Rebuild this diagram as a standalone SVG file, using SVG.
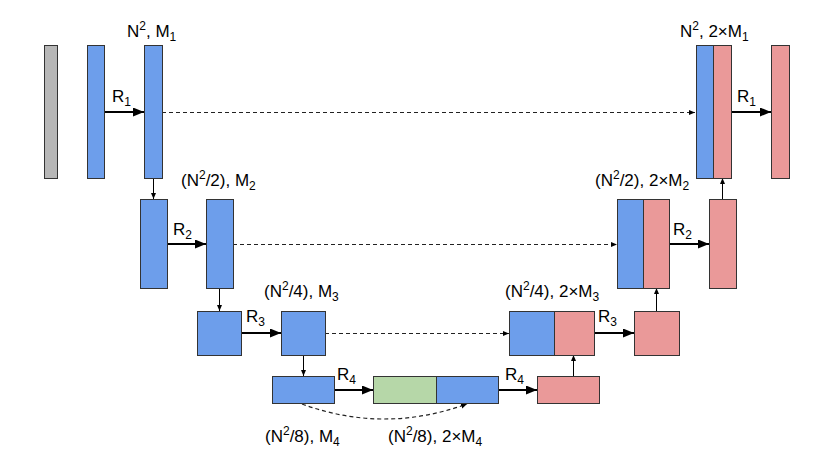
<svg xmlns="http://www.w3.org/2000/svg" width="830" height="470" viewBox="0 0 830 470">
<defs>
<style>
.b{fill:#6d9eeb;stroke:#333;stroke-width:1}
.r{fill:#ea9999;stroke:#333;stroke-width:1}
.g{fill:#b6d7a8;stroke:#333;stroke-width:1}
.k{fill:#b7b7b7;stroke:#333;stroke-width:1}
.t{font-family:"Liberation Sans",Arial,sans-serif;font-size:17px;fill:#000}
.s{font-size:12px}
.big{stroke:#000;stroke-width:2;fill:none;marker-end:url(#ab)}
.sm{stroke:#000;stroke-width:1;fill:none;marker-end:url(#as)}
.da{stroke:#222;stroke-width:1.2;stroke-dasharray:4 3;fill:none;marker-end:url(#as)}
</style>
<marker id="ab" markerUnits="userSpaceOnUse" markerWidth="11" markerHeight="9" refX="11" refY="4.5" orient="auto">
<path d="M0,0 L11,4.5 L0,9 z" fill="#000"/>
</marker>
<marker id="as" markerUnits="userSpaceOnUse" markerWidth="6" markerHeight="6" refX="6" refY="3" orient="auto">
<path d="M0,0.5 L6,3 L0,5.5 z" fill="#000"/>
</marker>
</defs>

<g id="connectors">
<line class="big" x1="104" y1="112" x2="144" y2="112"/>
<line class="big" x1="167" y1="244" x2="206" y2="244"/>
<line class="big" x1="241" y1="333" x2="281" y2="333"/>
<line class="big" x1="334" y1="390" x2="373" y2="390"/>
<line class="big" x1="498" y1="390" x2="537" y2="390"/>
<line class="big" x1="594" y1="333" x2="634" y2="333"/>
<line class="big" x1="669" y1="244" x2="709" y2="244"/>
<line class="big" x1="731" y1="112" x2="771" y2="112"/>
<line class="sm" x1="153.5" y1="178" x2="153.5" y2="199"/>
<line class="sm" x1="219.5" y1="288" x2="219.5" y2="311"/>
<line class="sm" x1="303.5" y1="355" x2="303.5" y2="376"/>
<line class="sm" x1="573.5" y1="376" x2="573.5" y2="355"/>
<line class="sm" x1="656.5" y1="311" x2="656.5" y2="288"/>
<line class="sm" x1="722.5" y1="199" x2="722.5" y2="178"/>
<line class="da" x1="162" y1="112.5" x2="695" y2="112.5"/>
<line class="da" x1="233" y1="244.5" x2="617" y2="244.5"/>
<line class="da" x1="325" y1="333.5" x2="509" y2="333.5"/>
<path class="da" d="M302,404 Q384,434 467,404"/>
</g>

<g id="input"><rect class="k" x="44.5" y="45.5" width="13" height="133"/></g>
<g id="enc1a"><rect class="b" x="87.5" y="45.5" width="17" height="133"/></g>
<g id="enc1b"><rect class="b" x="144.5" y="45.5" width="18" height="133"/></g>
<g id="enc2a"><rect class="b" x="140.5" y="199.5" width="27" height="89"/></g>
<g id="enc2b"><rect class="b" x="206.5" y="199.5" width="27" height="89"/></g>
<g id="enc3a"><rect class="b" x="197.5" y="311.5" width="44" height="44"/></g>
<g id="enc3b"><rect class="b" x="281.5" y="311.5" width="44" height="44"/></g>
<g id="enc4"><rect class="b" x="272.5" y="376.5" width="62" height="27"/></g>
<g id="bottleneck"><rect class="g" x="373.5" y="376.5" width="63" height="27"/><rect class="b" x="436.5" y="376.5" width="62" height="27"/></g>
<g id="dec4"><rect class="r" x="537.5" y="376.5" width="62" height="27"/></g>
<g id="dec3a"><rect class="b" x="509.5" y="311.5" width="45" height="44"/><rect class="r" x="554.5" y="311.5" width="40" height="44"/></g>
<g id="dec3b"><rect class="r" x="634.5" y="311.5" width="45" height="44"/></g>
<g id="dec2a"><rect class="b" x="617.5" y="199.5" width="26" height="89"/><rect class="r" x="643.5" y="199.5" width="26" height="89"/></g>
<g id="dec2b"><rect class="r" x="709.5" y="199.5" width="27" height="89"/></g>
<g id="dec1a"><rect class="b" x="696.5" y="45.5" width="17" height="133"/><rect class="r" x="713.5" y="45.5" width="18" height="133"/></g>
<g id="dec1b"><rect class="r" x="771.5" y="45.5" width="18" height="133"/></g>

<g id="labels">
<text class="t" x="112" y="102">R<tspan class="s" dy="4">1</tspan></text>
<text class="t" x="173" y="235">R<tspan class="s" dy="4">2</tspan></text>
<text class="t" x="246" y="322">R<tspan class="s" dy="4">3</tspan></text>
<text class="t" x="337" y="380">R<tspan class="s" dy="4">4</tspan></text>
<text class="t" x="505" y="380">R<tspan class="s" dy="4">4</tspan></text>
<text class="t" x="598" y="322">R<tspan class="s" dy="4">3</tspan></text>
<text class="t" x="673" y="235">R<tspan class="s" dy="4">2</tspan></text>
<text class="t" x="737" y="102">R<tspan class="s" dy="4">1</tspan></text>

<text class="t" x="127" y="37">N<tspan class="s" dy="-7">2</tspan><tspan dy="7">, M</tspan><tspan class="s" dy="4">1</tspan></text>
<text class="t" x="680" y="37">N<tspan class="s" dy="-7">2</tspan><tspan dy="7">, 2×M</tspan><tspan class="s" dy="4">1</tspan></text>
<text class="t" x="181" y="186">(N<tspan class="s" dy="-7">2</tspan><tspan dy="7">/2), M</tspan><tspan class="s" dy="4">2</tspan></text>
<text class="t" x="595" y="186">(N<tspan class="s" dy="-7">2</tspan><tspan dy="7">/2), 2×M</tspan><tspan class="s" dy="4">2</tspan></text>
<text class="t" x="264" y="297">(N<tspan class="s" dy="-7">2</tspan><tspan dy="7">/4), M</tspan><tspan class="s" dy="4">3</tspan></text>
<text class="t" x="505" y="297">(N<tspan class="s" dy="-7">2</tspan><tspan dy="7">/4), 2×M</tspan><tspan class="s" dy="4">3</tspan></text>
<text class="t" x="265" y="442">(N<tspan class="s" dy="-7">2</tspan><tspan dy="7">/8), M</tspan><tspan class="s" dy="4">4</tspan></text>
<text class="t" x="388" y="442">(N<tspan class="s" dy="-7">2</tspan><tspan dy="7">/8), 2×M</tspan><tspan class="s" dy="4">4</tspan></text>
</g>
</svg>
